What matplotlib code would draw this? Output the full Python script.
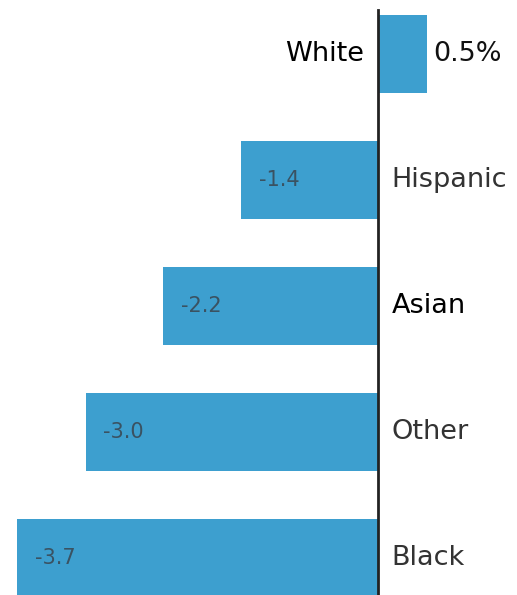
import matplotlib.pyplot as plt

# dados
grupos = ['White', 'Hispanic', 'Asian', 'Other', 'Black']
variacao = [0.5, -1.4, -2.2, -3.0, -3.7]
rotulos = ['0.5%', '-1.4', '-2.2', '-3.0', '-3.7']
cor_texto = ['#000000', '#333333', '#000000', '#333333', '#333333']

azul = '#3d9fcf'

fig = plt.figure(figsize=(5.17, 5.95), dpi=100)
ax = fig.add_axes([0, 0, 1, 1])

pos = list(range(len(grupos)))
ax.barh(pos, variacao, height=0.62, color=azul)

# linha do zero
ax.plot([0, 0], [-0.35, 4.4], color='#222222', linewidth=2)

for i, (g, v, r) in enumerate(zip(grupos, variacao, rotulos)):
    if v >= 0:
        ax.text(-0.14, i, g, ha='right', va='center', fontsize=19.5, color=cor_texto[i])
        ax.text(v + 0.07, i, r, ha='left', va='center', fontsize=19.5, color='#111111')
    else:
        ax.text(0.14, i, g, ha='left', va='center', fontsize=19.5, color=cor_texto[i])
        ax.text(v + 0.18, i, r, ha='left', va='center', fontsize=15, color='#3a5262')

ax.set_xlim(-3.877, 1.426)
ax.set_ylim(4.29, -0.43)
ax.axis('off')

plt.savefig('out.png', dpi=100)
